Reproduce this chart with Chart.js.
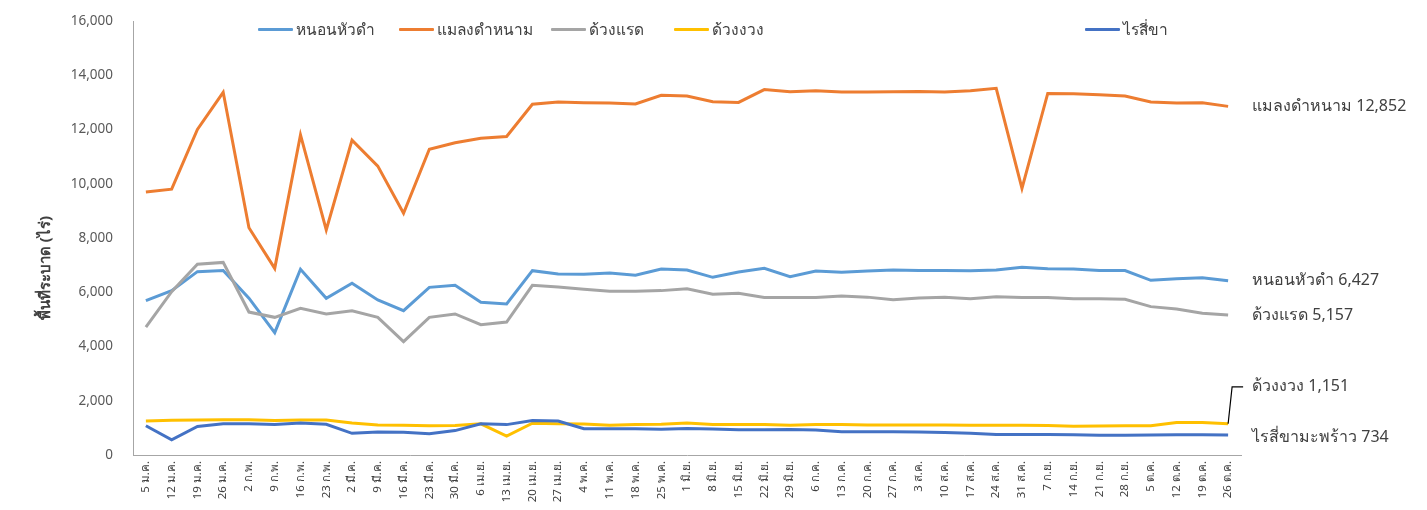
<!DOCTYPE html>
<html>
<head>
<meta charset="utf-8">
<script src="https://cdn.jsdelivr.net/npm/chart.js@4.4.0/dist/chart.umd.min.js"></script>
<style>
  html, body { margin: 0; padding: 0; background: #fff; }
  #wrap { position: relative; width: 1427px; height: 510px; overflow: hidden; }
  #legend { position: absolute; left: 0; top: 0; width: 100%; height: 50px; pointer-events: none; }
  .lg { position: absolute; top: 17px; display: flex; align-items: center; font-family: "Noto Sans", sans-serif; font-size: 15.5px; color: #404040; }
  .lg i { display: inline-block; width: 35px; height: 3px; margin-right: 3px; border-radius: 1px; }
</style>
</head>
<body>
<div id="wrap">
  <canvas id="chart" width="1427" height="510"></canvas>
  <div id="legend"></div>
</div>
<script>
"use strict";

// ── Data ─────────────────────────────────────────────────────────────────────
const WEEKS = ["5 ม.ค.", "12 ม.ค.", "19 ม.ค.", "26 ม.ค.", "2 ก.พ.", "9 ก.พ.", "16 ก.พ.", "23 ก.พ.",
  "2 มี.ค.", "9 มี.ค.", "16 มี.ค.", "23 มี.ค.", "30 มี.ค.", "6 เม.ย.", "13 เม.ย.", "20 เม.ย.", "27 เม.ย.",
  "4 พ.ค.", "11 พ.ค.", "18 พ.ค.", "25 พ.ค.", "1 มิ.ย.", "8 มิ.ย.", "15 มิ.ย.", "22 มิ.ย.", "29 มิ.ย.",
  "6 ก.ค.", "13 ก.ค.", "20 ก.ค.", "27 ก.ค.", "3 ส.ค.", "10 ส.ค.", "17 ส.ค.", "24 ส.ค.", "31 ส.ค.",
  "7 ก.ย.", "14 ก.ย.", "21 ก.ย.", "28 ก.ย.", "5 ต.ค.", "12 ต.ค.", "19 ต.ค.", "26 ต.ค."];

const SERIES_NAMES = ["หนอนหัวดำ", "แมลงดำหนาม", "ด้วงแรด", "ด้วงงวง", "ไรสี่ขา"];
const END_NAMES = ["หนอนหัวดำ", "แมลงดำหนาม", "ด้วงแรด", "ด้วงงวง", "ไรสี่ขามะพร้าว"];
const COLORS = ["#5B9BD5", "#ED7D31", "#A5A5A5", "#FFC000", "#4472C4"];

const HEAD_WORM = [5690, 6060, 6760, 6800, 5780, 4510, 6850, 5780, 6330, 5715,
  5320, 6180, 6255, 5630, 5570, 6795, 6670, 6660, 6710, 6625,
  6860, 6820, 6550, 6745, 6880, 6575, 6785, 6735,
  6780, 6820, 6800, 6800, 6790, 6820, 6920, 6870, 6860, 6800, 6800, 6440, 6500, 6530, 6427];
const HISPINE = [9700, 9800, 12000, 13370, 8380, 6880, 11800, 8300, 11610, 10650,
  8910, 11270, 11510, 11675, 11740, 12930, 13015, 12990, 12975, 12940,
  13260, 13235, 13025, 13000, 13470, 13395, 13430, 13380,
  13380, 13395, 13405, 13380, 13430, 13520, 9830, 13330, 13320, 13285, 13235, 13015, 12975, 12990, 12852];
const RHINO = [4710, 6020, 7030, 7100, 5270, 5075, 5410, 5200, 5320, 5075,
  4180, 5075, 5200, 4805, 4900, 6255, 6195, 6110, 6035, 6035,
  6060, 6130, 5925, 5960, 5810, 5810, 5810, 5860,
  5820, 5720, 5790, 5820, 5760, 5830, 5810, 5810, 5760, 5760, 5740, 5470, 5380, 5230, 5157];
const WEEVIL = [1250, 1280, 1290, 1300, 1300, 1270, 1290, 1290, 1180, 1110,
  1100, 1080, 1090, 1150, 700, 1170, 1150, 1140, 1100, 1120,
  1130, 1180, 1120, 1120, 1120, 1100, 1120, 1120,
  1110, 1110, 1110, 1110, 1100, 1100, 1100, 1090, 1060, 1070, 1080, 1080, 1200, 1200, 1151];
const MITE = [1080, 560, 1050, 1150, 1150, 1120, 1180, 1130, 800, 850,
  840, 780, 900, 1150, 1120, 1270, 1250, 970, 970, 970,
  950, 980, 960, 930, 930, 940, 920, 860,
  860, 860, 850, 830, 800, 760, 760, 760, 750, 730, 730, 740, 750, 750, 734];

const SERIES = [HEAD_WORM, HISPINE, RHINO, WEEVIL, MITE];

const FONT = "'Noto Sans', sans-serif";
const fmt = v => v.toLocaleString("en-US");

// ── Legend (HTML) ────────────────────────────────────────────────────────────
const LEGEND_X = [258, 399, 551, 674, 1085];
const legendEl = document.getElementById("legend");
SERIES_NAMES.forEach((name, i) => {
  const d = document.createElement("div");
  d.className = "lg";
  d.style.left = LEGEND_X[i] + "px";
  d.innerHTML = `<i style="background:${COLORS[i]}"></i><span>${name}</span>`;
  legendEl.appendChild(d);
});

// ── End labels + axis title plugin ───────────────────────────────────────────
const endLabels = {
  id: "endLabels",
  afterDatasetsDraw(chart) {
    const ctx = chart.ctx;
    const dy = [0, 0, 0, -37, 2];
    ctx.save();
    ctx.font = "16px " + FONT;
    ctx.fillStyle = "#404040";
    ctx.textBaseline = "middle";
    ctx.textAlign = "left";
    chart.data.datasets.forEach((ds, i) => {
      const meta = chart.getDatasetMeta(i);
      const pt = meta.data[meta.data.length - 1];
      const last = ds.data[ds.data.length - 1];
      ctx.fillText(`${END_NAMES[i]} ${fmt(last)}`, pt.x + 24, pt.y + dy[i]);
      if (i === 3) {
        ctx.strokeStyle = "#000";
        ctx.lineWidth = 1.2;
        ctx.beginPath();
        ctx.moveTo(pt.x, pt.y);
        ctx.lineTo(pt.x + 4, pt.y + dy[i]);
        ctx.lineTo(pt.x + 15, pt.y + dy[i]);
        ctx.stroke();
      }
    });

    // y-axis title, set a little below the axis middle like the original
    const area = chart.chartArea;
    ctx.translate(46, (area.top + area.bottom) / 2 + 30);
    ctx.rotate(-Math.PI / 2);
    ctx.textAlign = "center";
    ctx.font = "bold 15px " + FONT;
    ctx.fillText("พื้นที่ระบาด (ไร่)", 0, 0);
    ctx.restore();
  },
};

// ── Chart ────────────────────────────────────────────────────────────────────
const chart = new Chart(document.getElementById("chart").getContext("2d"), {
  type: "line",
  data: {
    labels: WEEKS,
    datasets: SERIES.map((vals, i) => ({
      label: SERIES_NAMES[i],
      data: vals,
      borderColor: COLORS[i],
      backgroundColor: COLORS[i],
      borderWidth: 3,
      pointRadius: 0,
      tension: 0,
      fill: false,
      order: SERIES.length - i,
    })),
  },
  options: {
    responsive: false,
    animation: false,
    layout: { padding: { top: 21, right: 186, left: 10, bottom: 0 } },
    plugins: {
      legend: { display: false },
      tooltip: { enabled: false },
    },
    scales: {
      x: {
        offset: true,
        grid: { display: false, drawTicks: false },
        border: { color: "#A6A6A6", width: 1 },
        ticks: {
          autoSkip: false,
          maxRotation: 90,
          minRotation: 90,
          padding: 6,
          color: "#404040",
          font: { family: FONT, size: 11.5 },
        },
        afterFit: s => { s.height = 55; s.paddingTop = 0; s.paddingBottom = 0; },
      },
      y: {
        min: 0,
        max: 16000,
        grid: { display: false, drawTicks: false },
        border: { color: "#A6A6A6", width: 1 },
        ticks: {
          stepSize: 2000,
          padding: 20,
          color: "#595959",
          font: { family: FONT, size: 13.5 },
          callback: v => fmt(v),
        },
        afterFit: s => { s.width = 123; s.paddingTop = 0; s.paddingBottom = 0; },
      },
    },
  },
  plugins: [endLabels],
});
</script>
</body>
</html>
